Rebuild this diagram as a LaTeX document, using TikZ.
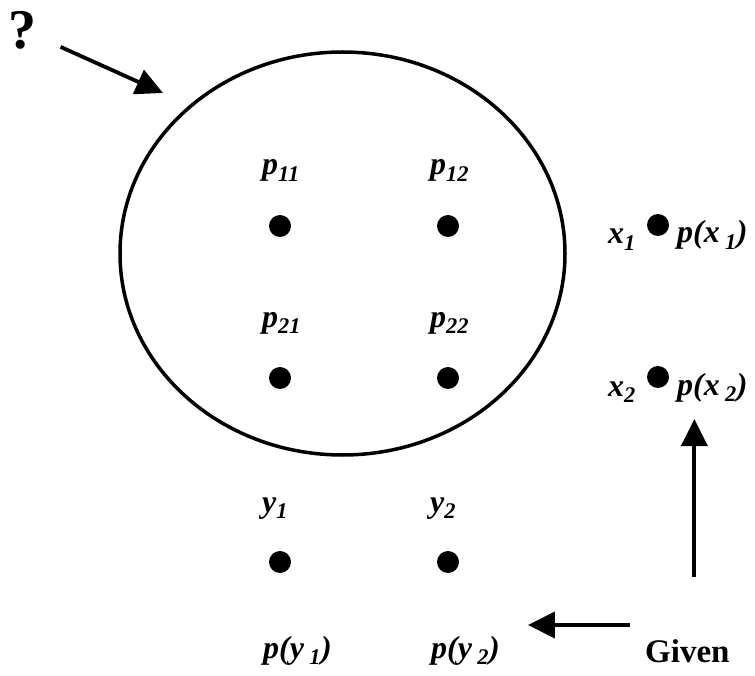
\documentclass[tikz,border=0pt]{standalone}
\usepackage{fontspec}
\setmainfont{Liberation Serif}
\usetikzlibrary{arrows.meta,calc,shapes.geometric}
\newcommand\sbs[1]{\textsubscript{#1}}

\begin{document}
\begin{tikzpicture}[x=1pt,y=-1pt,>={Triangle[length=27pt,width=26pt]},
 dot/.style={circle,fill,inner sep=0pt,minimum size=22pt},
 lab/.style={anchor=base west,inner sep=0pt,font=\fontsize{32}{34}\selectfont\bfseries\itshape},
 arr/.style={->,line width=3.8pt}]
 \useasboundingbox (0,0) rectangle (755,676);
 \node[ellipse,draw,line width=3.5pt,minimum width=445pt,minimum height=403pt,inner sep=0pt] (oval) at (342.5,253.5) {};
 \node[font=\fontsize{56}{58}\selectfont\bfseries] (qm) at (23,30) {?};
 \coordinate (tip) at (163,93);
 \draw[arr,shorten <=22pt] (qm) -- (tip);
 \foreach \i/\y in {1/226,2/378}{
  \foreach \j/\x in {1/280,2/448}{
   \node[dot] (p\i\j) at (\x,\y) {};
   \node[lab] (l\i\j) at (\x-18,\y-51) {p\sbs{\i\j}};}}
 \foreach \j/\x in {1/280,2/448}{
  \node[dot] (y\j) at (\x,562) {};
  \node[lab] (ly\j) at (\x-18,512) {y\sbs{\j}};
  \node[lab] (py\j) at (\x-17,658) {p(y\,\sbs{\j})};}
 \foreach \i/\y in {1/225,2/377}{
  \node[dot] (x\i) at (658,\y) {};
  \node[lab] (lx\i) at (608,\y+19) {x\sbs{\i}};
  \node[lab] (px\i) at (677,\y+18) {p(x\,\sbs{\i})};}
 \node[lab,font=\fontsize{33}{35}\selectfont\bfseries] (given) at (645,662) {Given};
 \coordinate (gtop) at ([xshift=7pt]given.north);
 \coordinate (gside) at ([yshift=37pt]given.base west);
 \draw[arr,shorten <=62pt,shorten >=17pt] (gtop) -- (gtop |- px2.south);
 \draw[arr,shorten <=15pt,shorten >=28pt] (gside) -- (gside -| py2.east);
\end{tikzpicture}
\end{document}
